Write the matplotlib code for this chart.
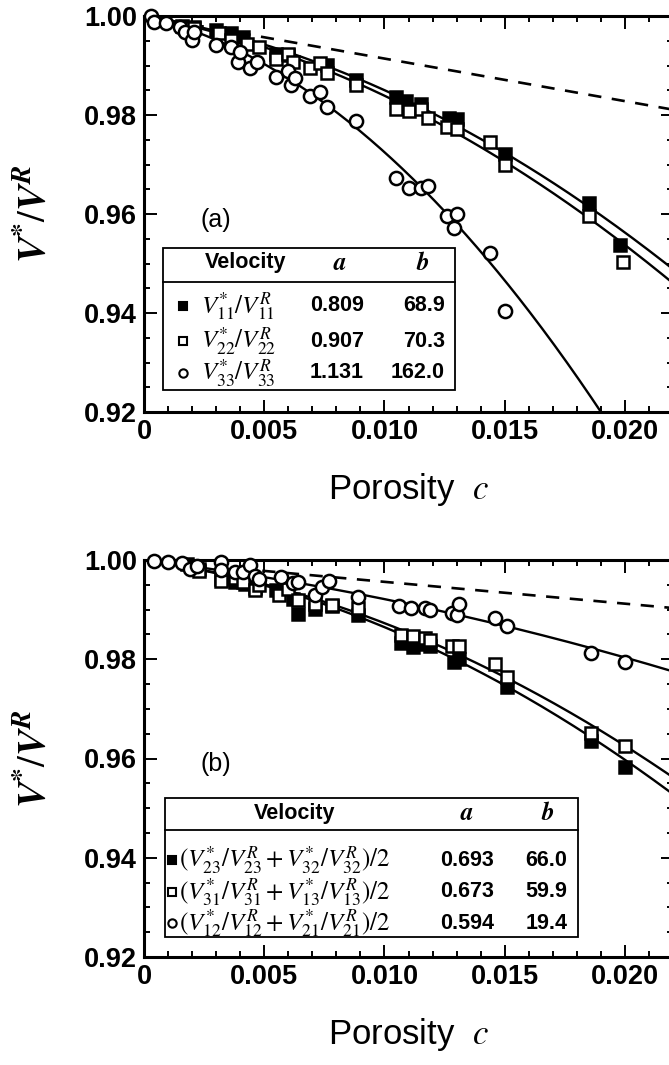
import numpy as np
import matplotlib.pyplot as plt
from matplotlib.patches import Rectangle
from matplotlib.ticker import MultipleLocator, FixedLocator, FixedFormatter
from matplotlib.mathtext import MathTextParser

plt.rcParams["mathtext.fontset"] = "stix"
plt.rcParams["font.family"] = ["Liberation Sans", "DejaVu Sans"]

# ---- panel (a) data: porosity c vs V*/V^R ----
a_c11 = [0.0016, 0.0021, 0.0030, 0.0036, 0.0041, 0.0055, 0.0060, 0.0076, 0.0088,
         0.0105, 0.0109, 0.0115, 0.0127, 0.0130, 0.0150, 0.0185, 0.0198]
a_v11 = [0.9980, 0.9978, 0.9972, 0.9965, 0.9957, 0.9924, 0.9921, 0.9902, 0.9871,
         0.9836, 0.9829, 0.9822, 0.9794, 0.9792, 0.9721, 0.9622, 0.9538]
a_c22 = [0.0017, 0.0021, 0.0031, 0.0036, 0.0043, 0.0048, 0.0055, 0.0060, 0.0062,
         0.0069, 0.0073, 0.0076, 0.0088, 0.0105, 0.0110, 0.0115, 0.0118, 0.0126,
         0.0130, 0.0144, 0.0150, 0.0185, 0.0199]
a_v22 = [0.9975, 0.9975, 0.9965, 0.9951, 0.9944, 0.9938, 0.9914, 0.9924, 0.9907,
         0.9894, 0.9905, 0.9885, 0.9860, 0.9812, 0.9809, 0.9812, 0.9794, 0.9775,
         0.9772, 0.9746, 0.9700, 0.9595, 0.9504]
a_c33 = [0.0003, 0.0004, 0.0009, 0.0015, 0.0017, 0.0020, 0.0021, 0.0030, 0.0036,
         0.0039, 0.0040, 0.0044, 0.0047, 0.0055, 0.0060, 0.0061, 0.0063, 0.0069,
         0.0073, 0.0076, 0.0088, 0.0105, 0.0110, 0.0115, 0.0118, 0.0126, 0.0130,
         0.0129, 0.0144, 0.0150]
a_v33 = [1.0000, 0.9988, 0.9986, 0.9978, 0.9968, 0.9951, 0.9968, 0.9941, 0.9938,
         0.9907, 0.9927, 0.9894, 0.9907, 0.9877, 0.9889, 0.9860, 0.9875, 0.9839,
         0.9846, 0.9816, 0.9787, 0.9673, 0.9652, 0.9653, 0.9656, 0.9595, 0.9599,
         0.9572, 0.9521, 0.9405]

# ---- panel (b) data ----
b_c23 = [0.0018, 0.0023, 0.0032, 0.0038, 0.0042, 0.0046, 0.0055, 0.0062, 0.0064,
         0.0071, 0.0078, 0.0089, 0.0107, 0.0112, 0.0117, 0.0119, 0.0129, 0.0131,
         0.0151, 0.0186, 0.0200]
b_v23 = [0.9991, 0.9982, 0.9962, 0.9955, 0.9952, 0.9943, 0.9939, 0.9922, 0.9892,
         0.9902, 0.9908, 0.9889, 0.9833, 0.9824, 0.9830, 0.9826, 0.9795, 0.9800,
         0.9744, 0.9635, 0.9582]
b_c31 = [0.0023, 0.0032, 0.0038, 0.0041, 0.0046, 0.0048, 0.0056, 0.0060, 0.0064,
         0.0071, 0.0078, 0.0089, 0.0107, 0.0112, 0.0117, 0.0119, 0.0128, 0.0131,
         0.0146, 0.0151, 0.0186, 0.0200]
b_v31 = [0.9978, 0.9958, 0.9963, 0.9955, 0.9939, 0.9949, 0.9930, 0.9942, 0.9919,
         0.9912, 0.9909, 0.9904, 0.9848, 0.9846, 0.9842, 0.9838, 0.9826, 0.9826,
         0.9790, 0.9764, 0.9651, 0.9625]
b_c12 = [0.0004, 0.0010, 0.0016, 0.0019, 0.0022, 0.0032, 0.0032, 0.0038, 0.0041,
         0.0044, 0.0046, 0.0048, 0.0057, 0.0062, 0.0064, 0.0071, 0.0074, 0.0077,
         0.0089, 0.0106, 0.0111, 0.0117, 0.0119, 0.0128, 0.0130, 0.0131, 0.0146,
         0.0151, 0.0186, 0.0200]
b_v12 = [0.9998, 0.9996, 0.9993, 0.9982, 0.9987, 0.9995, 0.9980, 0.9975, 0.9975,
         0.9989, 0.9967, 0.9962, 0.9965, 0.9954, 0.9956, 0.9930, 0.9945, 0.9958,
         0.9925, 0.9908, 0.9904, 0.9904, 0.9899, 0.9894, 0.9889, 0.9912, 0.9884,
         0.9868, 0.9813, 0.9795]

# fit coefficients V*/V^R = 1 - a c - b c^2
a_labels = [r"$V_{11}^{*}/V_{11}^{R}$", r"$V_{22}^{*}/V_{22}^{R}$", r"$V_{33}^{*}/V_{33}^{R}$"]
a_coef_a = [0.809, 0.907, 1.131]
a_coef_b = [68.9, 70.3, 162.0]
b_labels = [r"$(V_{23}^{*}/V_{23}^{R}+V_{32}^{*}/V_{32}^{R})/2$",
            r"$(V_{31}^{*}/V_{31}^{R}+V_{13}^{*}/V_{13}^{R})/2$",
            r"$(V_{12}^{*}/V_{12}^{R}+V_{21}^{*}/V_{21}^{R})/2$"]
b_coef_a = [0.693, 0.673, 0.594]
b_coef_b = [66.0, 59.9, 19.4]
# dashed reference line slope (1 - s c)
dash_slope = [0.86, 0.44]

markers = [("s", "black"), ("s", "white"), ("o", "white")]

# bold italic text if this mathtext knows \mathbfit
ylab = r"$\mathbfit{V}^{\mathbf{*}}/\mathbfit{V}^{\mathbfit{R}}$"
head_a, head_b = r"$\mathbfit{a}$", r"$\mathbfit{b}$"
try:
    MathTextParser("path").parse(ylab)
except Exception:
    ylab = r"$V^{*}/V^{R}$"
    head_a, head_b = r"$a$", r"$b$"

W, H = 669, 1065
fig = plt.figure(figsize=(W / 100, H / 100), dpi=100)
ax_a = fig.add_axes([144 / W, 1 - 412 / H, 529 / W, 396 / H])
ax_b = fig.add_axes([144 / W, 1 - 957 / H, 529 / W, 397 / H])

cc = np.linspace(0, 0.022, 300)


def style_axes(ax):
    ax.set_xlim(0, 0.022)
    ax.set_ylim(0.92, 1.0)
    ax.xaxis.set_major_locator(FixedLocator([0, 0.005, 0.010, 0.015, 0.020]))
    ax.xaxis.set_major_formatter(FixedFormatter(["0", "0.005", "0.010", "0.015", "0.020"]))
    ax.xaxis.set_minor_locator(MultipleLocator(0.001))
    ax.yaxis.set_major_locator(FixedLocator([0.92, 0.94, 0.96, 0.98, 1.00]))
    ax.yaxis.set_major_formatter(FixedFormatter(["0.92", "0.94", "0.96", "0.98", "1.00"]))
    ax.yaxis.set_minor_locator(MultipleLocator(0.005))
    ax.tick_params(which="both", direction="in", top=True, right=True, width=1.4)
    ax.tick_params(which="major", length=9, labelsize=19.5, pad=5)
    ax.tick_params(which="minor", length=4.5)
    for lab in ax.get_xticklabels() + ax.get_yticklabels():
        lab.set_fontweight("bold")
    for s in ax.spines.values():
        s.set_linewidth(2.2)
    ax.set_xlabel(r"Porosity  $c$", fontsize=25, va="center")
    ax.xaxis.set_label_coords(0.5, -0.195)
    ax.set_ylabel(ylab, fontsize=28, va="center")
    ax.yaxis.set_label_coords(-0.208, 0.5)


def draw_table(ax, labels, ca, cb, box, cols):
    x0, x1, y0, y1, yline = box
    ax.add_patch(Rectangle((x0, y0), x1 - x0, y1 - y0, transform=ax.transAxes,
                           facecolor="white", edgecolor="black", lw=1.3, zorder=5))
    ax.plot([x0, x1], [yline, yline], color="black", lw=1.3, transform=ax.transAxes, zorder=6)
    vx, ax_, bx, mx, lx, ac, br, yh, rows = cols
    ax.text(vx, yh, "Velocity", transform=ax.transAxes, ha="center", va="center",
            fontsize=15.5, fontweight="bold", zorder=6)
    ax.text(ax_, yh, head_a, transform=ax.transAxes, ha="center", va="center",
            fontsize=18, zorder=6)
    ax.text(bx, yh, head_b, transform=ax.transAxes, ha="center", va="center",
            fontsize=18, zorder=6)
    for (m, fc), lab, a, b, y in zip(markers, labels, ca, cb, rows):
        ax.plot([mx], [y], marker=m, ms=6, mfc=fc, mec="black", mew=1.5,
                transform=ax.transAxes, zorder=7, clip_on=False)
        ax.text(lx, y, lab, transform=ax.transAxes, ha="left", va="center", fontsize=18, zorder=6)
        ax.text(ac, y, f"{a:.3f}", transform=ax.transAxes, ha="center", va="center",
                fontsize=15.5, fontweight="bold", zorder=6)
        ax.text(br, y, f"{b:.1f}", transform=ax.transAxes, ha="right", va="center",
                fontsize=15.5, fontweight="bold", zorder=6)


def draw_panel(ax, series, ca, cb, slope, tag):
    for (cx, vy), (m, fc) in zip(series, markers):
        ax.plot(cx, vy, ls="none", marker=m, ms=8.5 if m == "s" else 9.5, mfc=fc,
                mec="black", mew=1.8, zorder=3, clip_on=False)
    for a, b in zip(ca, cb):
        ax.plot(cc, 1 - a * cc - b * cc ** 2, color="black", lw=1.7, zorder=2)
    ax.plot(cc, 1 - slope * cc, color="black", lw=1.9, ls=(0, (5, 4)), zorder=2)
    ax.text(0.0030, 0.9588, tag, ha="center", va="center", fontsize=18)


draw_panel(ax_a, [(a_c11, a_v11), (a_c22, a_v22), (a_c33, a_v33)],
           a_coef_a, a_coef_b, dash_slope[0], "(a)")
draw_panel(ax_b, [(b_c23, b_v23), (b_c31, b_v31), (b_c12, b_v12)],
           b_coef_a, b_coef_b, dash_slope[1], "(b)")

for ax in (ax_a, ax_b):
    style_axes(ax)

draw_table(ax_a, a_labels, a_coef_a, a_coef_b,
           (0.036, 0.588, 0.056, 0.414, 0.328),
           (0.193, 0.37, 0.527, 0.074, 0.108, 0.365, 0.569, 0.377, [0.268, 0.179, 0.0985]))
draw_table(ax_b, b_labels, b_coef_a, b_coef_b,
           (0.040, 0.820, 0.050, 0.4005, 0.32),
           (0.284, 0.611, 0.764, 0.053, 0.066, 0.611, 0.80, 0.362, [0.244, 0.164, 0.0856]))

fig.savefig("out.png", dpi=100, facecolor="white")
